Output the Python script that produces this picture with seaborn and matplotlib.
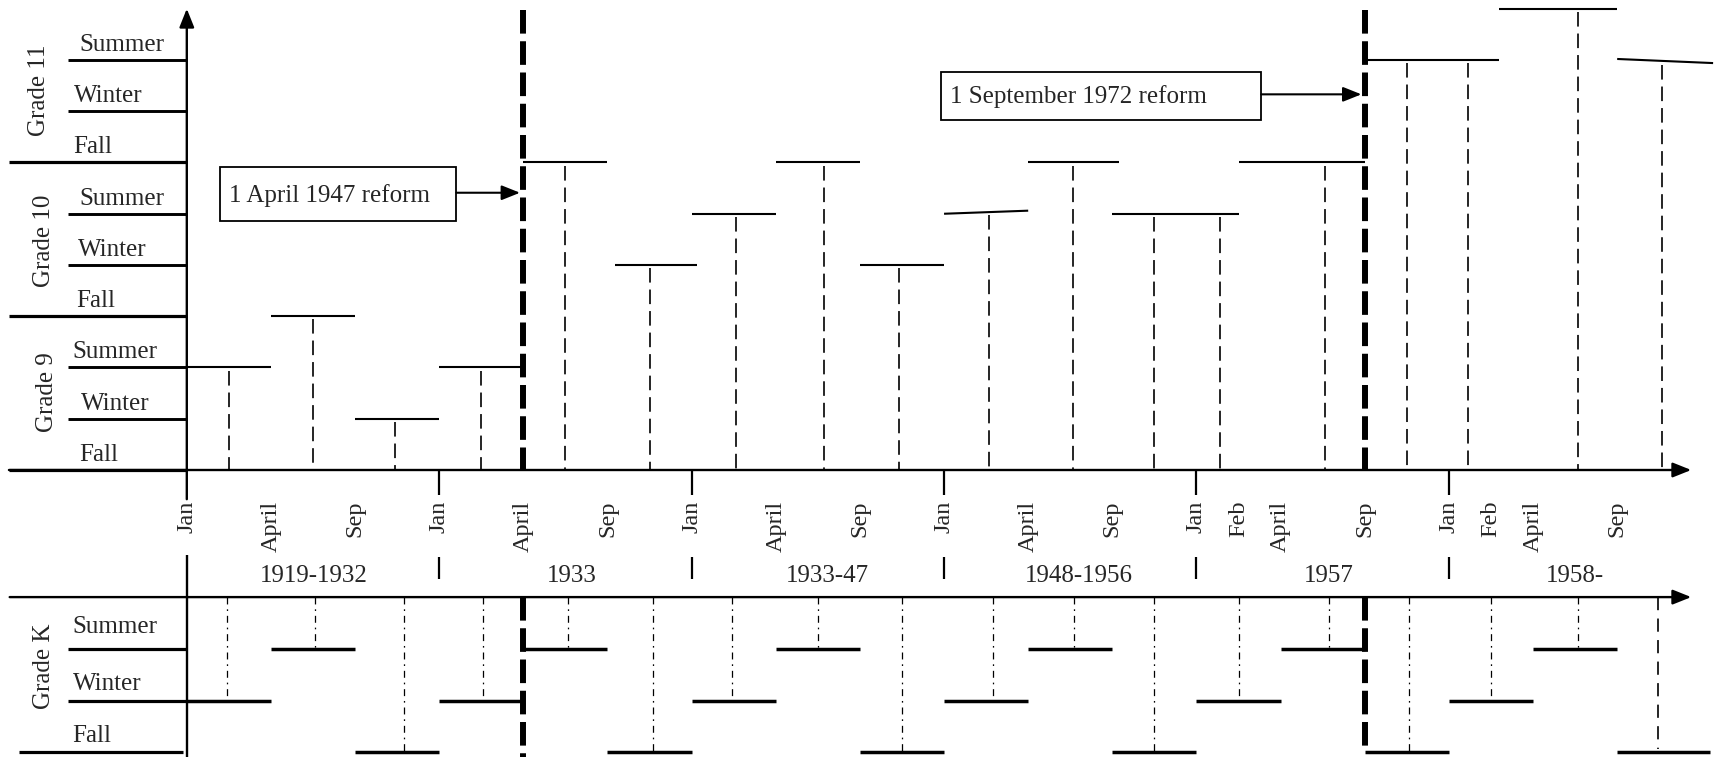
import numpy as np
import pandas as pd
import matplotlib
matplotlib.use("Agg")
import matplotlib.pyplot as plt
from matplotlib.patches import Rectangle
import seaborn as sns

# ---------------- data ----------------
grades = ["Grade 9", "Grade 10", "Grade 11"]
seasons = ["Fall", "Winter", "Summer"]
k_grade = "Grade K"
periods = ["1919-1932", "1933", "1933-47", "1948-1956", "1957", "1958-"]
month_labels = ["Jan", "April", "Sep", "Jan", "April", "Sep", "Jan", "April", "Sep",
                "Jan", "April", "Sep", "Jan", "Feb", "April", "Sep",
                "Jan", "Feb", "April", "Sep"]
month_pos = [0, 1, 2, 3, 4, 5, 6, 7, 8, 9, 10, 11, 12, 12.5, 13, 14, 15, 15.5, 16, 17]
period_jan = [0, 3, 6, 9, 12, 15]

# upper panel (grades 9-11): entry-level bars measured in season rows above the axis
upper_start = [0, 1, 2, 3, 4, 5.09, 6, 7, 8, 9, 10, 11, 12.5, 14, 15.6, 17]
upper_end = [1, 2, 3, 4, 5, 6.06, 7, 8, 9, 10, 11.08, 12.5, 14, 15.6, 17, 18.14]
upper_level_left = [2, 3, 1, 2, 6, 4, 5, 6, 4, 5.0, 6, 5, 6, 8, 9, 8.02]
upper_level_right = [2, 3, 1, 2, 6, 4, 5, 6, 4, 5.06, 6, 5, 6, 8, 9, 7.94]
upper_drop_x = [0.5, 1.5, 2.47, 3.5, 4.5, 5.5, 6.53, 7.57, 8.47, 9.53, 10.53,
                11.5, 12.28, 13.53, 14.5, 15.23, 16.53, 17.53]
upper_drop_top = [2, 3, 1, 2, 6, 4, 5, 6, 4, 5.03, 6, 5, 5, 6, 8, 8, 9, 7.97]

# lower panel (Grade K): rows 0 = Fall bottom, 1 = Winter bottom, 2 = Summer bottom
k_start = [0, 1, 2, 3, 4, 5, 6, 7, 8, 9, 10, 11, 12, 13, 14, 15, 16, 17]
k_end = [1, 2, 3, 4, 5, 6, 7, 8, 9, 10, 11, 12, 13, 14, 15, 16, 17, 18.1]
k_level = [1, 2, 0, 1, 2, 0, 1, 2, 0, 1, 2, 0, 1, 2, 0, 1, 2, 0]
k_drop_x = [0.48, 1.52, 2.58, 3.52, 4.53, 5.54, 6.48, 7.5, 8.5, 9.58, 10.54,
            11.5, 12.5, 13.58, 14.53, 15.5, 16.53, 17.48]
k_drop_level = [1, 2, 0, 1, 2, 0, 1, 2, 0, 1, 2, 0, 1, 2, 0, 1, 2, 0]

reform_x = [4, 14]
reform_labels = ["1 April 1947 reform", "1 September 1972 reform"]

# ---------------- layout ----------------
W, H, DPI = 1733, 757, 100
X0_PX, UX = 186.8, 84.14   # pixel of x=0, pixels per unit
Y0_PX, UY = 470.0, 51.25   # pixel of upper axis, pixels per row
K_BASE = -5.5              # bottom line of the Grade K rows
K_AXIS = -2.48             # lower time axis
Y_BOTTOM = (Y0_PX - H) / UY

sns.set_theme(style="white", rc={"lines.solid_capstyle": "butt",
                                 "lines.dash_capstyle": "butt",
                                 "lines.scale_dashes": False})
plt.rcParams["font.family"] = ["Liberation Serif", "DejaVu Serif"]
FS = 18

fig = plt.figure(figsize=(W / DPI, H / DPI), dpi=DPI)
ax = fig.add_axes([0, 0, 1, 1])

# upper bars via seaborn
up = pd.DataFrame({
    "x": np.ravel(np.column_stack([upper_start, upper_end])),
    "y": np.ravel(np.column_stack([upper_level_left, upper_level_right])),
    "bar": np.repeat(np.arange(len(upper_start)), 2),
})
sns.lineplot(data=up, x="x", y="y", units="bar", estimator=None, sort=False,
             color="black", linewidth=1.5, ax=ax, legend=False)

kdf = pd.DataFrame({
    "x": np.ravel(np.column_stack([k_start, k_end])),
    "y": K_BASE + np.repeat(k_level, 2),
    "bar": np.repeat(np.arange(len(k_start)), 2),
})
sns.lineplot(data=kdf, x="x", y="y", units="bar", estimator=None, sort=False,
             color="black", linewidth=2.5, ax=ax, legend=False)

# dashed drops (upper)
for x, top in zip(upper_drop_x, upper_drop_top):
    ax.plot([x, x], [top - 0.06, 0], color="black", lw=1.2,
            linestyle=(0, (10.5, 5)))

# dash-dot drops (Grade K)
for i, (x, lv) in enumerate(zip(k_drop_x, k_drop_level)):
    y_bot = K_BASE + lv
    if i == len(k_drop_x) - 1:
        ax.plot([x, x], [K_AXIS, y_bot + 0.05], color="black", lw=1.2,
                linestyle=(0, (9.5, 6)))
    else:
        ax.plot([x, x], [K_AXIS, y_bot], color="black", lw=0.9,
                linestyle=(0, (5, 3.5, 1.2, 3.5)))

# left grid: grade boundaries and season boundaries
for lv in [0, 3, 6]:
    ax.plot([-2.114, 0], [lv, lv], color="black", lw=2.3)
for lv in [1, 2, 4, 5, 7, 8]:
    ax.plot([-1.413, 0], [lv, lv], color="black", lw=2.1)
for lv in [1, 2]:
    ax.plot([-1.41, 0], [K_BASE + lv, K_BASE + lv], color="black", lw=2.3)
ax.plot([-2.0, -0.05], [K_BASE, K_BASE], color="black", lw=2.3)

# axes with arrows
arrow_kw = dict(arrowstyle="-|>,head_length=0.8,head_width=0.32",
                mutation_scale=14, color="black", lw=1.7, shrinkA=0, shrinkB=0)
xmax_u = (W - X0_PX) / UX
ax.annotate("", xy=(17.88, 0), xytext=(-2.114, 0), arrowprops=arrow_kw)
ax.annotate("", xy=(17.88, K_AXIS), xytext=(-2.105, K_AXIS), arrowprops=arrow_kw)
ax.annotate("", xy=(0, 9.0), xytext=(0, -0.57), arrowprops=arrow_kw)
ax.plot([0, 0], [-1.66, Y_BOTTOM], color="black", lw=1.7)

# year separators
for xj in period_jan[1:]:
    ax.plot([xj, xj], [0, -0.49], color="black", lw=1.6)
    ax.plot([xj, xj], [-1.70, -2.12], color="black", lw=1.6)

# month labels
for lab, xp in zip(month_labels, month_pos):
    ax.text(xp, -0.6, lab, rotation=90, ha="center", va="top", fontsize=FS - 0.5)

# period labels
period_x = [1.51, 4.58, 7.61, 10.6, 13.57, 16.5]
for lab, xp in zip(periods, period_x):
    ax.text(xp, -2.18, lab, ha="center", va="baseline", fontsize=FS)

# season labels
season_x = [[-1.278, -1.253, -1.358],
            [-1.320, -1.295, -1.278],
            [-1.350, -1.337, -1.278]]
for g in range(3):
    for s in range(3):
        ax.text(season_x[g][s], 3 * g + s + 0.18, seasons[s], ha="left",
                va="baseline", fontsize=FS)
k_season_off = [0.2, 0.21, 0.32]
for s in range(3):
    ax.text(-1.356, K_BASE + s + k_season_off[s], seasons[s], ha="left",
            va="baseline", fontsize=FS)

# grade labels
grade_pos = [(-1.658, 1.51), (-1.70, 4.47), (-1.753, 7.41)]
for lab, (gx, gy) in zip(grades, grade_pos):
    ax.text(gx, gy, lab, rotation=90, ha="center", va="center", fontsize=FS)
ax.text(-1.70, -3.82, k_grade, rotation=90, ha="center", va="center", fontsize=FS)

# reform lines (interrupted across the month/period label strip)
reform_ls = (0, (17, 5.5))
for xr, ybot in zip(reform_x, [Y_BOTTOM, -5.47]):
    ax.plot([xr, xr], [8.98, 0], color="black", lw=4.3, linestyle=reform_ls)
    ax.plot([xr, xr], [K_AXIS, ybot], color="black", lw=4.3, linestyle=reform_ls)

# annotation boxes
boxes = [(0.39, 4.864, 3.204, 5.918, 0.497, 5.235, 5.41),
         (8.963, 6.83, 12.77, 7.77, 9.065, 7.155, 7.33)]
for (x0, y0, x1, y1, tx, ty, ay), lab, xr in zip(boxes, reform_labels, reform_x):
    ax.add_patch(Rectangle((x0, y0), x1 - x0, y1 - y0, fill=False,
                           edgecolor="black", lw=1.3, zorder=3))
    ax.text(tx, ty, lab, ha="left", va="baseline", fontsize=FS, zorder=4)
    ax.annotate("", xy=(xr - 0.04, ay), xytext=(x1, ay),
                arrowprops=dict(arrowstyle="-|>,head_length=0.8,head_width=0.32",
                                mutation_scale=14, color="black", lw=1.5,
                                shrinkA=0, shrinkB=0))

ax.set_xlim(-X0_PX / UX, xmax_u)
ax.set_ylim(Y_BOTTOM, Y0_PX / UY)
ax.axis("off")

fig.savefig("out.png", dpi=DPI, facecolor="white")
